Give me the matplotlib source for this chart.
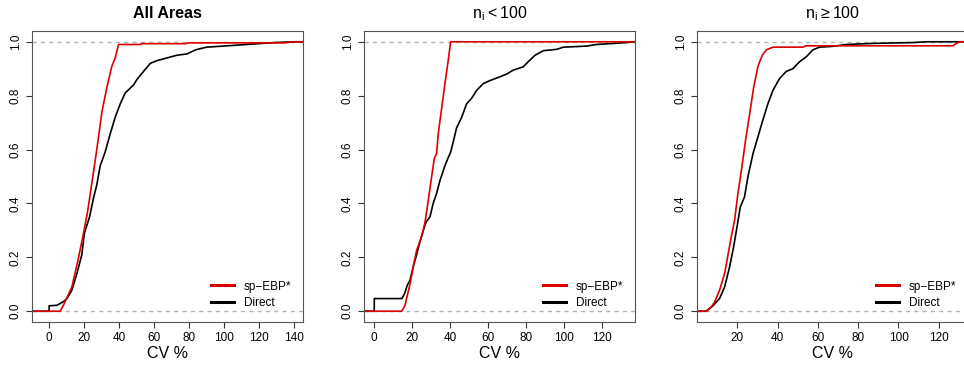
import numpy as np
import matplotlib
matplotlib.use("Agg")
import matplotlib.pyplot as plt

plt.rcParams['font.family'] = ['Liberation Sans', 'DejaVu Sans']

# ECDF knots (CV %, cumulative share)
all_ebp_cv = [6.3, 8, 13, 16.2, 19.7, 22, 25, 27.9, 30.2, 33, 35.9, 37.8, 39.7, 52, 53, 78, 80, 135, 140]
all_ebp_F = [0, 0.02, 0.09, 0.18, 0.29, 0.37, 0.50, 0.63, 0.74, 0.83, 0.91, 0.94, 0.99, 0.99, 0.993, 0.993, 0.996, 0.996, 1.0]
all_dir_cv = [0, 0, 4.4, 8, 10, 13, 15.9, 18.7, 20.2, 23.1, 25.4, 27.3, 29.2, 32, 35, 37.8, 40.7, 43.5,
              48.3, 50.2, 54, 57.9, 61.7, 67.4, 73, 78.9, 83.7, 90, 101.8, 113, 128.5, 140]
all_dir_F = [0, 0.02, 0.022, 0.035, 0.045, 0.078, 0.14, 0.21, 0.29, 0.35, 0.42, 0.47, 0.54, 0.59, 0.66, 0.72, 0.77, 0.81,
             0.84, 0.86, 0.89, 0.92, 0.93, 0.94, 0.95, 0.955, 0.97, 0.98, 0.985, 0.99, 0.997, 1.0]

small_ebp_cv = [14.4, 16.1, 17, 18.8, 20.5, 22.3, 24.9, 26.7, 28.4, 30.2, 31.6, 32.8, 33.7, 35.4, 37.2, 38.9, 40.2]
small_ebp_F = [0, 0.02, 0.047, 0.10, 0.165, 0.226, 0.276, 0.33, 0.41, 0.50, 0.567, 0.585, 0.66, 0.75, 0.845, 0.93, 1.0]
small_dir_cv = [0, 0, 14.5, 16, 17.4, 18.8, 20.5, 22.3, 24, 25.8, 27.2, 29.3, 31, 32.8, 34.6, 37.2, 38.9, 40.2,
                41.6, 43.3, 46, 48.6, 51.2, 53.9, 57.4, 60.9, 66.1, 69.6, 73.2, 78.4, 81, 84.6, 89, 96, 99.5,
                111.8, 117, 132.8, 136]
small_dir_F = [0, 0.047, 0.047, 0.066, 0.097, 0.115, 0.165, 0.21, 0.257, 0.30, 0.33, 0.35, 0.40, 0.437, 0.486, 0.54, 0.57, 0.59,
               0.63, 0.68, 0.72, 0.77, 0.79, 0.82, 0.845, 0.856, 0.87, 0.88, 0.895, 0.907, 0.926, 0.95, 0.967, 0.972, 0.98,
               0.984, 0.99, 0.997, 1.0]

large_ebp_cv = [4.6, 7.1, 8.8, 11.2, 13.7, 15.4, 17, 18.7, 20.3, 22, 24.1, 26.1, 28.1, 30.3, 32.4, 34.4, 37.7,
                52.6, 54, 127, 130]
large_ebp_F = [0, 0.016, 0.035, 0.078, 0.14, 0.21, 0.276, 0.34, 0.437, 0.52, 0.635, 0.73, 0.83, 0.91, 0.95, 0.97, 0.98,
               0.98, 0.985, 0.985, 1.0]
large_dir_cv = [4.6, 7.9, 11.2, 13.7, 16.2, 18.2, 19.8, 21.5, 23.6, 25.3, 27.8, 30.2, 32.7, 35.2, 37.7, 41, 44.3,
                47.6, 50.9, 54.2, 57.5, 60.8, 67.4, 74, 87.3, 107, 113.7]
large_dir_F = [0, 0.02, 0.047, 0.09, 0.165, 0.24, 0.31, 0.387, 0.425, 0.50, 0.585, 0.646, 0.71, 0.77, 0.82, 0.864, 0.89,
               0.90, 0.926, 0.944, 0.97, 0.98, 0.983, 0.99, 0.994, 0.997, 1.0]

titles = ["All Areas", r"$\mathregular{n_i < 100}$", r"$\mathregular{n_i \geq 100}$"]
xlims = [(-9.8, 145.2), (-5.4, 137.2), (0, 134.5)]
xticks = [np.arange(0, 141, 20), np.arange(0, 121, 20), np.arange(20, 121, 20)]
panels = [(all_ebp_cv, all_ebp_F, all_dir_cv, all_dir_F),
          (small_ebp_cv, small_ebp_F, small_dir_cv, small_dir_F),
          (large_ebp_cv, large_ebp_F, large_dir_cv, large_dir_F)]
lefts = [32 / 964, 364 / 964, 697 / 964]

fig = plt.figure(figsize=(9.64, 3.68), dpi=100)
red = '#dd0000'
for i in range(3):
    ax = fig.add_axes([lefts[i], 1 - 322 / 368, 271 / 964, 291 / 368])
    lo, hi = xlims[i]
    ecv, eF, dcv, dF = panels[i]
    ax.axhline(0, color='#b3b3b3', lw=1, dashes=(3, 3))
    ax.axhline(1, color='#b3b3b3', lw=1, dashes=(3, 3))
    ax.plot([lo] + dcv + [hi], [0] + dF + [1], color='black', lw=1.2)
    ax.plot([lo] + ecv + [hi], [0] + eF + [1], color=red, lw=1.2)
    ax.set_xlim(lo, hi)
    ax.set_ylim(-0.04, 1.04)
    ax.set_xticks(xticks[i])
    ax.set_yticks([0, 0.2, 0.4, 0.6, 0.8, 1.0])
    ax.set_yticklabels(['0.0', '0.2', '0.4', '0.6', '0.8', '1.0'], rotation=90, va='center')
    ax.tick_params(labelsize=8.5, length=4, color='#333333', direction='out')
    for s in ax.spines.values():
        s.set_color('#555555')
    ax.set_xlabel('CV %', fontsize=11.5, labelpad=1)
    if i == 0:
        ax.set_title(titles[i], fontsize=11.5, fontweight='bold', pad=9)
    else:
        ax.set_title(titles[i], fontsize=11.5, pad=9)
    h1, = ax.plot([], [], color=red, lw=2.2)
    h2, = ax.plot([], [], color='black', lw=2.2)
    ax.legend([h1, h2], ['sp\u2212EBP*', 'Direct'], loc='lower right', frameon=False,
              fontsize=8.5, handlelength=2.0, labelspacing=0.35, borderaxespad=0.6,
              bbox_to_anchor=(1.0, 0.005))

fig.savefig('out.png', dpi=100)
